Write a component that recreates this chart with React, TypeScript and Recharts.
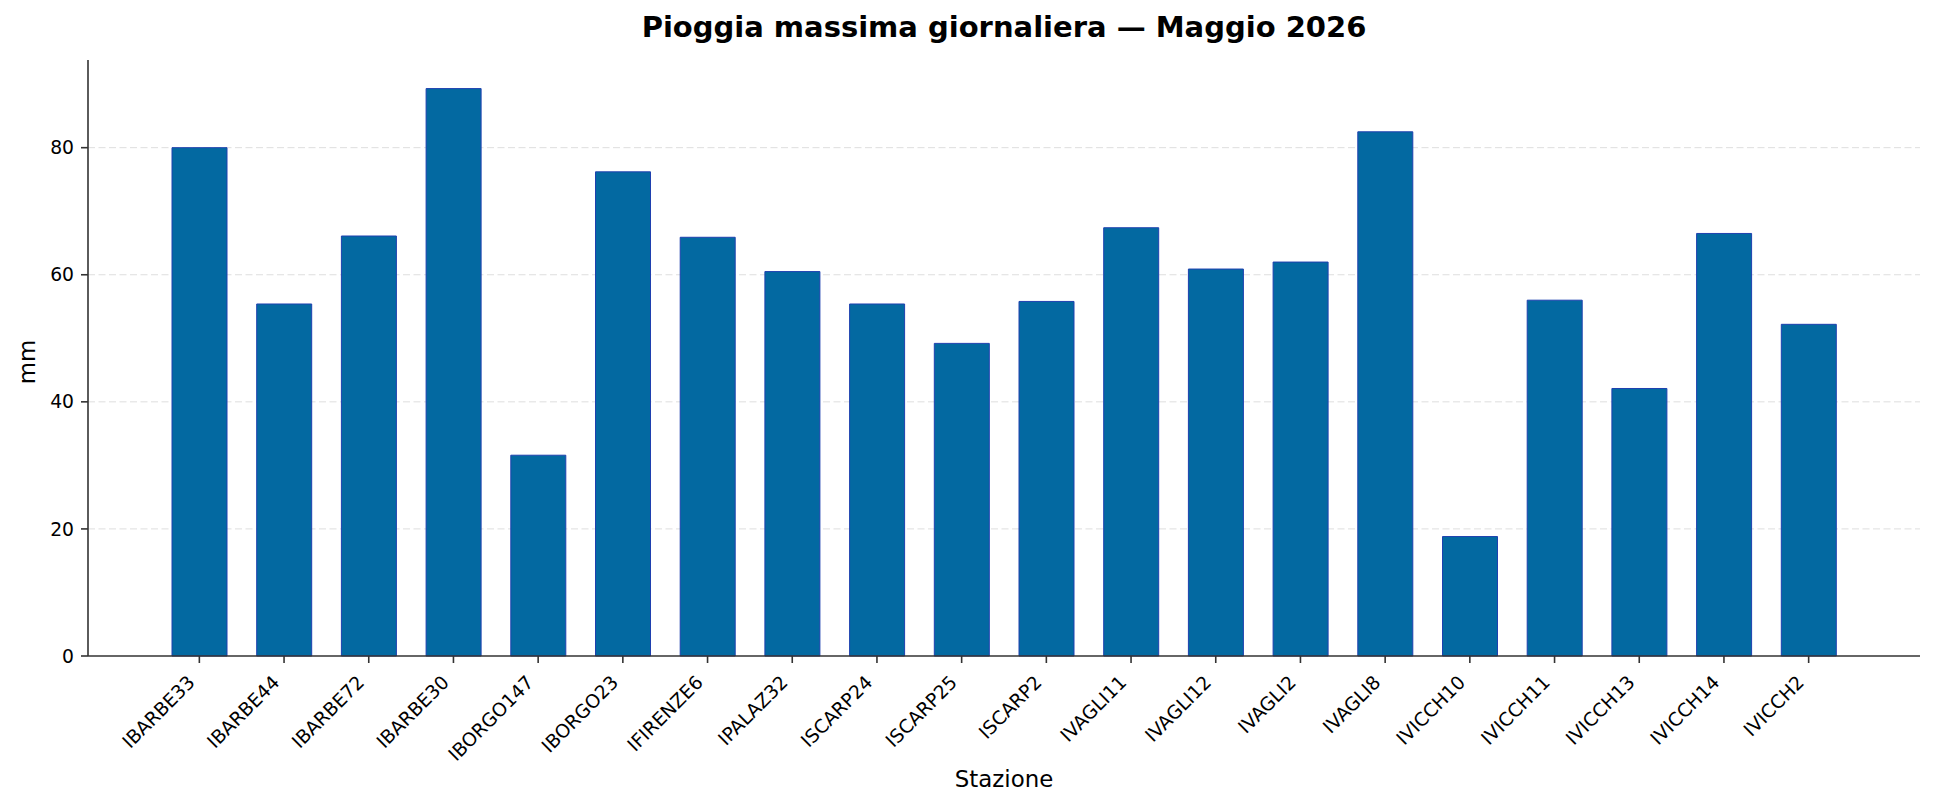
import { Bar, BarChart, CartesianGrid, XAxis, YAxis } from "recharts";

const stations = [
  "IBARBE33", "IBARBE44", "IBARBE72", "IBARBE30", "IBORGO147",
  "IBORGO23", "IFIRENZE6", "IPALAZ32", "ISCARP24", "ISCARP25",
  "ISCARP2", "IVAGLI11", "IVAGLI12", "IVAGLI2", "IVAGLI8",
  "IVICCH10", "IVICCH11", "IVICCH13", "IVICCH14", "IVICCH2",
];

const maxRain = [
  80.0, 55.4, 66.1, 89.3, 31.6,
  76.2, 65.9, 60.5, 55.4, 49.2,
  55.8, 67.4, 60.9, 62.0, 82.5,
  18.8, 56.0, 42.1, 66.5, 52.2,
];

const yTicks = [0, 20, 40, 60, 80];

const FONT = "'DejaVu Sans', sans-serif";

const data = stations.map((s, i) => ({ station: s, mm: maxRain[i] }));

function StationTick({ x, y, payload }: any) {
  return (
    <g transform={`translate(${x - 8},${y + 9})`}>
      <text
        x={0}
        y={0}
        dy="0.35em"
        textAnchor="end"
        transform="rotate(-45)"
        fontSize={18.75}
        fontFamily={FONT}
        fill="#000"
      >
        {payload.value}
      </text>
    </g>
  );
}

export default function App() {
  return (
    <div
      style={{
        position: "absolute",
        left: 0,
        top: 0,
        width: 1935,
        height: 809,
        background: "#fff",
        fontFamily: FONT,
      }}
    >
      <div
        style={{
          position: "absolute",
          left: 88,
          width: 1832,
          top: 10,
          textAlign: "center",
          fontSize: 29,
          fontWeight: "bold",
          color: "#000",
        }}
      >
        Pioggia massima giornaliera — Maggio 2026
      </div>
      <div
        style={{
          position: "absolute",
          left: 27,
          top: 362,
          fontSize: 22.9,
          color: "#000",
          transform: "translate(-50%, -50%) rotate(-90deg)",
          whiteSpace: "nowrap",
        }}
      >
        mm
      </div>
      <div
        style={{
          position: "absolute",
          left: 88,
          width: 1832,
          top: 766,
          textAlign: "center",
          fontSize: 22.9,
          color: "#000",
        }}
      >
        Stazione
      </div>
      <BarChart
        width={1935}
        height={809}
        data={data}
        margin={{ top: 60, right: 15, bottom: 0, left: 0 }}
        style={{ position: "absolute", left: 0, top: 0 }}
      >
        <CartesianGrid
          vertical={false}
          horizontalValues={[20, 40, 60, 80]}
          stroke="#dedede"
          strokeDasharray="7 3.5"
          strokeWidth={1}
        />
        <XAxis
          dataKey="station"
          height={153}
          interval={0}
          padding={{ left: 69, right: 69 }}
          tick={<StationTick />}
          tickSize={7}
          tickMargin={7}
          axisLine={{ stroke: "#333", strokeWidth: 1.6 }}
          tickLine={{ stroke: "#333", strokeWidth: 1.6 }}
        />
        <YAxis
          width={88}
          domain={[0, 93.8]}
          ticks={yTicks}
          tickSize={7}
          tickMargin={7}
          tick={{ fontSize: 18.75, fill: "#000", fontFamily: FONT }}
          axisLine={{ stroke: "#333", strokeWidth: 1.6 }}
          tickLine={{ stroke: "#333", strokeWidth: 1.6 }}
        />
        <Bar
          dataKey="mm"
          barSize={55}
          fill="#0369a1"
          stroke="#1e40af"
          strokeWidth={1}
          isAnimationActive={false}
        />
      </BarChart>
    </div>
  );
}
